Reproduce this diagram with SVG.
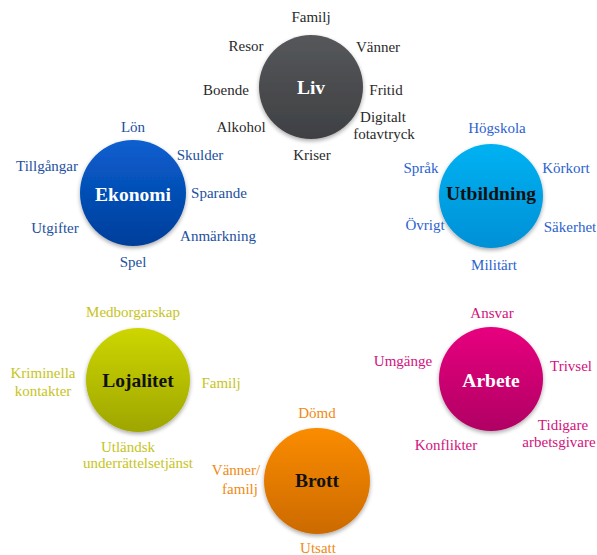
<svg xmlns="http://www.w3.org/2000/svg" width="597" height="555" viewBox="0 0 597 555">
<style>
text{font-family:"Liberation Serif","Times New Roman",serif;font-size:15px;text-anchor:middle;dominant-baseline:central}
.t{font-size:19.5px;font-weight:bold}
.w{fill:#fff}
.k{fill:#111}
.liv{fill:#2a2a2a}
.eko{fill:#234f9e}
.utb{fill:#2b62d0}
.loj{fill:#c6c41c}
.arb{fill:#d2127c}
.bro{fill:#f08a12}
</style>
<defs>
<filter id="sh" x="-20%" y="-20%" width="140%" height="140%"><feGaussianBlur in="SourceAlpha" stdDeviation="2"/><feOffset dy="2"/><feComponentTransfer><feFuncA type="linear" slope="0.35"/></feComponentTransfer><feMerge><feMergeNode/><feMergeNode in="SourceGraphic"/></feMerge></filter>
<linearGradient id="gLiv" x1="0" y1="0" x2="0" y2="1"><stop offset="0" stop-color="#55575a"/><stop offset="1" stop-color="#3e4043"/></linearGradient>
<linearGradient id="gEko" x1="0" y1="0" x2="0" y2="1"><stop offset="0" stop-color="#0a5fd0"/><stop offset="1" stop-color="#003e9a"/></linearGradient>
<linearGradient id="gUtb" x1="0" y1="0" x2="0" y2="1"><stop offset="0" stop-color="#00b2f2"/><stop offset="1" stop-color="#0090d6"/></linearGradient>
<linearGradient id="gLoj" x1="0" y1="0" x2="0" y2="1"><stop offset="0" stop-color="#cdd600"/><stop offset="1" stop-color="#9ea600"/></linearGradient>
<linearGradient id="gArb" x1="0" y1="0" x2="0" y2="1"><stop offset="0" stop-color="#e8007e"/><stop offset="1" stop-color="#b00064"/></linearGradient>
<linearGradient id="gBro" x1="0" y1="0" x2="0" y2="1"><stop offset="0" stop-color="#fb8c00"/><stop offset="1" stop-color="#cc6a00"/></linearGradient>
</defs>
<rect width="597" height="555" fill="#fff"/>
<g id="connectors"/>
<g id="liv">
<circle cx="311" cy="87" r="52" fill="url(#gLiv)" filter="url(#sh)"/>
<text x="311" y="87" class="t w">Liv</text>
<text x="311" y="17" class="liv">Familj</text>
<text x="246" y="46" class="liv">Resor</text>
<text x="378" y="47" class="liv">Vänner</text>
<text x="226" y="90" class="liv">Boende</text>
<text x="386" y="90" class="liv">Fritid</text>
<text x="241" y="127" class="liv">Alkohol</text>
<text x="383" y="117" class="liv">Digitalt</text>
<text x="384" y="134" class="liv">fotavtryck</text>
<text x="312" y="155" class="liv">Kriser</text>
</g>
<g id="ekonomi">
<circle cx="133" cy="193" r="53" fill="url(#gEko)" filter="url(#sh)"/>
<text x="133" y="194" class="t w">Ekonomi</text>
<text x="133" y="127" class="eko">Lön</text>
<text x="47" y="166" class="eko">Tillgångar</text>
<text x="200" y="155" class="eko">Skulder</text>
<text x="219" y="193" class="eko">Sparande</text>
<text x="55" y="228" class="eko">Utgifter</text>
<text x="218" y="236" class="eko">Anmärkning</text>
<text x="133" y="262" class="eko">Spel</text>
</g>
<g id="utbildning">
<circle cx="491" cy="196" r="52" fill="url(#gUtb)" filter="url(#sh)"/>
<text x="491" y="193" class="t k">Utbildning</text>
<text x="497" y="128" class="utb">Högskola</text>
<text x="421" y="168" class="utb">Språk</text>
<text x="566" y="168" class="utb">Körkort</text>
<text x="425" y="225" class="utb">Övrigt</text>
<text x="570" y="227" class="utb">Säkerhet</text>
<text x="494" y="265" class="utb">Militärt</text>
</g>
<g id="lojalitet">
<circle cx="138" cy="380" r="52" fill="url(#gLoj)" filter="url(#sh)"/>
<text x="138" y="380" class="t k">Lojalitet</text>
<text x="133" y="312" class="loj">Medborgarskap</text>
<text x="43" y="373" class="loj">Kriminella</text>
<text x="43" y="391" class="loj">kontakter</text>
<text x="221" y="383" class="loj">Familj</text>
<text x="128" y="447" class="loj">Utländsk</text>
<text x="138" y="463" class="loj">underrättelsetjänst</text>
</g>
<g id="arbete">
<circle cx="491" cy="379" r="52" fill="url(#gArb)" filter="url(#sh)"/>
<text x="491" y="380" class="t w">Arbete</text>
<text x="492" y="313" class="arb">Ansvar</text>
<text x="403" y="361" class="arb">Umgänge</text>
<text x="571" y="366" class="arb">Trivsel</text>
<text x="563" y="425" class="arb">Tidigare</text>
<text x="559" y="442" class="arb">arbetsgivare</text>
<text x="446" y="445" class="arb">Konflikter</text>
</g>
<g id="brott">
<circle cx="317" cy="481" r="53" fill="url(#gBro)" filter="url(#sh)"/>
<text x="317" y="480" class="t k">Brott</text>
<text x="317" y="413" class="bro">Dömd</text>
<text x="236" y="470" class="bro">Vänner/</text>
<text x="240" y="489" class="bro">familj</text>
<text x="318" y="548" class="bro">Utsatt</text>
</g>
</svg>
